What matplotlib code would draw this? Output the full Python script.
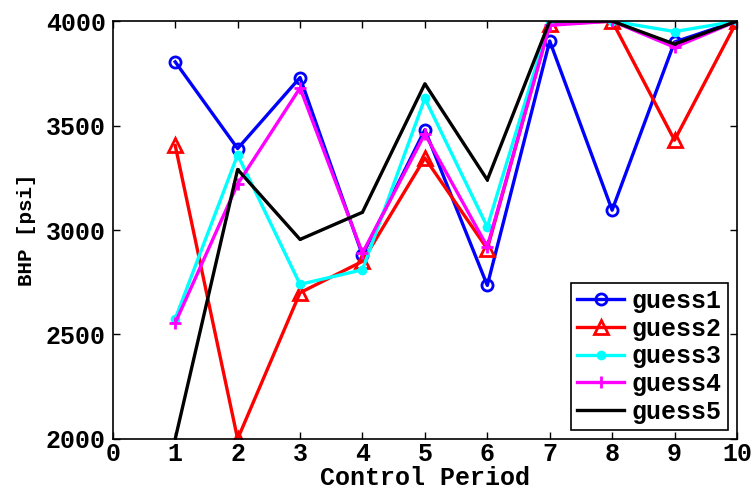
import matplotlib
matplotlib.use("Agg")
import matplotlib.pyplot as plt

periods = [1, 2, 3, 4, 5, 6, 7, 8, 9, 10]
guess1 = [3805, 3390, 3730, 2880, 3480, 2735, 3905, 3095, 3900, 4000]
guess2 = [3405, 2000, 2700, 2850, 3345, 2910, 3985, 4000, 3430, 4000]
guess3 = [2575, 3360, 2740, 2810, 3630, 3015, 4000, 4000, 3950, 4000]
guess4 = [2555, 3220, 3680, 2890, 3460, 2920, 3980, 4000, 3875, 4000]
guess5 = [2000, 3290, 2955, 3085, 3700, 3240, 4000, 4000, 3890, 4000]
xticks = [0, 1, 2, 3, 4, 5, 6, 7, 8, 9, 10]
yticks = [2000, 2500, 3000, 3500, 4000]

plt.rcParams['font.family'] = 'Liberation Mono'
plt.rcParams['font.weight'] = 'bold'

fig = plt.figure(figsize=(7.52, 4.91), dpi=100)
ax = fig.add_axes([0.150, 0.106, 0.830, 0.851])

lw = 2.4
ax.plot(periods, guess1, color='#0000ff', lw=lw, marker='o', ms=8, mfc='none', mew=2, label='guess1')
ax.plot(periods, guess2, color='#ff0000', lw=lw, marker='^', ms=10, mfc='none', mew=2, label='guess2')
ax.plot(periods, guess3, color='#00ffff', lw=lw, marker='o', ms=6, mfc='#00ffff', mec='#00ffff', label='guess3')
ax.plot(periods, guess4, color='#ff00ff', lw=lw, marker='+', ms=8, mew=2, label='guess4')
ax.plot(periods, guess5, color='#000000', lw=lw, marker='.', ms=2, label='guess5')

ax.set_xlim(0, 10)
ax.set_ylim(2000, 4000)
ax.set_xticks(xticks)
ax.set_yticks(yticks)
ax.tick_params(direction='in', top=True, right=True, length=5, width=1, labelsize=18)
ax.tick_params(axis='x', pad=2)
ax.tick_params(axis='y', pad=5)
for lab in ax.get_xticklabels() + ax.get_yticklabels():
    lab.set_fontweight('bold')
for s in ax.spines.values():
    s.set_linewidth(1.2)

ax.set_xlabel('Control Period', fontsize=18, fontweight='bold', labelpad=0)
ax.set_ylabel('BHP [psi]', fontsize=15, fontweight='bold', labelpad=7)

leg = ax.legend(loc='lower right', fontsize=18, frameon=True, fancybox=False,
                edgecolor='black', borderaxespad=0.35, handlelength=1.9,
                labelspacing=0.15, borderpad=0.25, handletextpad=0.3)
leg.get_frame().set_linewidth(1.2)
leg.get_frame().set_alpha(1)
for t in leg.get_texts():
    t.set_fontweight('bold')

fig.savefig('out.png', dpi=100)
